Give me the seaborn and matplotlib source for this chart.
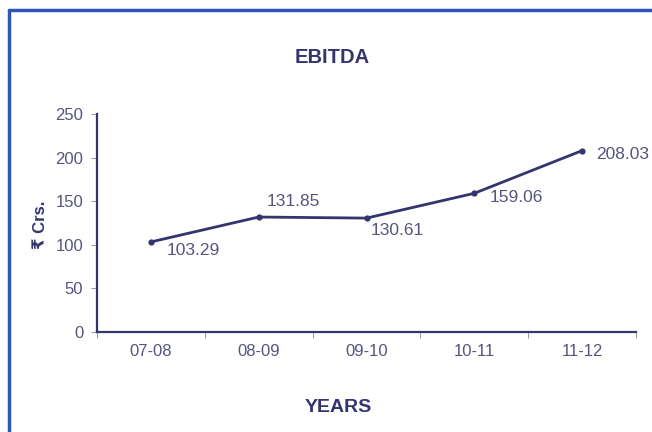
import numpy as np
import seaborn as sns
import matplotlib.pyplot as plt
from matplotlib.lines import Line2D

# Data
years = ["07-08", "08-09", "09-10", "10-11", "11-12"]
ebitda = [103.29, 131.85, 130.61, 159.06, 208.03]
value_labels = ["103.29", "131.85", "130.61", "159.06", "208.03"]
y_ticks = [0, 50, 100, 150, 200, 250]

# label offsets in points (dx, dy)
label_offsets = [(11, -6), (6, 11), (3, -9), (11, -3), (10, -3)]

navy = "#34346e"
text_col = "#55557e"
border_blue = "#2d55b5"

sns.set_theme(style="white")
plt.rcParams["font.family"] = ["Liberation Sans", "DejaVu Sans"]

fig = plt.figure(figsize=(6.52, 4.32), dpi=100)
fig.patch.set_facecolor("white")
ax = fig.add_axes([0.1488, 0.2315, 0.8267, 0.5046])

x = np.arange(len(years))
sns.lineplot(x=x, y=ebitda, ax=ax, color=navy, linewidth=2.0,
             marker="o", markersize=4.5, markeredgewidth=0, markerfacecolor=navy)

for xi, yi, lab, (dx, dy) in zip(x, ebitda, value_labels, label_offsets):
    ax.annotate(lab, (xi, yi), xytext=(dx, dy), textcoords="offset points",
                ha="left", va="center", fontsize=12.5, color=text_col)

ax.set_xlim(-0.5, len(years) - 0.5)
ax.set_ylim(0, 250)
ax.set_yticks(y_ticks)
ax.set_yticklabels([str(t) for t in y_ticks], fontsize=12, color=text_col)

# ticks at category boundaries, labels at category centres
ax.set_xticks(np.arange(len(years) + 1) - 0.5)
ax.set_xticklabels([])
ax.set_xticks(x, minor=True)
ax.set_xticklabels(years, minor=True, fontsize=12, color=text_col)
ax.tick_params(axis="x", which="major", direction="out", length=4, width=0.8,
               color="#9a9ab8", bottom=True)
ax.tick_params(axis="x", which="minor", length=0, pad=9)
ax.tick_params(axis="y", direction="out", length=4, width=0.8,
               color="#9a9ab8", left=True, pad=6)

sns.despine(ax=ax)
for side in ["left", "bottom"]:
    ax.spines[side].set_color(navy)
    ax.spines[side].set_linewidth(1.6)

ax.set_xlabel("")
ax.set_ylabel("")

fig.text(0.509, 0.866, "EBITDA", ha="center", va="center",
         fontsize=14.5, fontweight="bold", color=navy)
fig.text(0.519, 0.056, "YEARS", ha="center", va="center",
         fontsize=14, fontweight="bold", color=navy)
fig.text(0.062, 0.48, "₹ Crs.", ha="center", va="center", rotation=90,
         fontsize=12, fontweight="bold", color=navy)

# blue frame on top and left edges
fig.add_artist(Line2D([0.0138, 0.0138], [0.0, 0.977], transform=fig.transFigure,
                      color=border_blue, linewidth=2.5))
fig.add_artist(Line2D([0.0138, 1.0], [0.977, 0.977], transform=fig.transFigure,
                      color=border_blue, linewidth=2.5))

fig.savefig("out.png", dpi=100)
